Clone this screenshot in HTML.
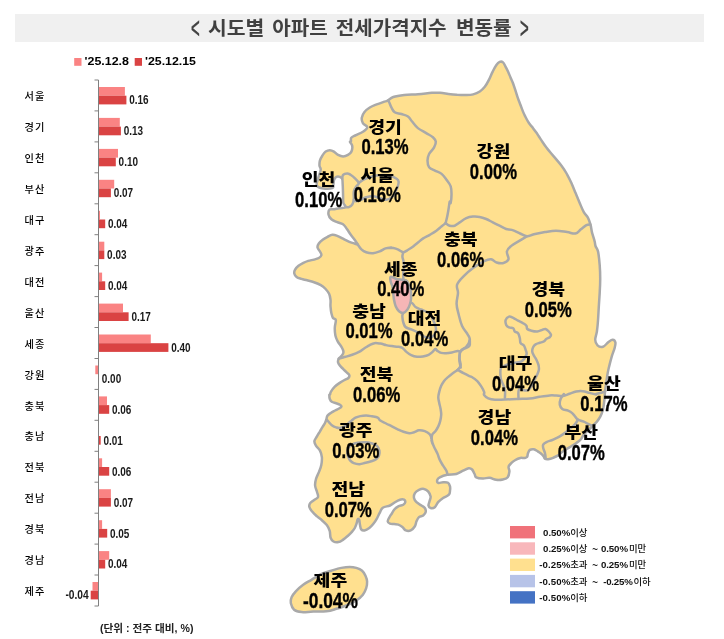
<!DOCTYPE html>
<html lang="ko">
<head>
<meta charset="utf-8">
<title>시도별 아파트 전세가격지수 변동률</title>
<style>
html,body{margin:0;padding:0;background:#fff;}
body{width:724px;height:639px;overflow:hidden;}
svg{display:block;}
text{font-family:"Liberation Sans","Noto Sans CJK KR",sans-serif;fill:#111;}
.title{font-size:19px;font-weight:700;fill:#404040;}
.chev{font-size:30px;font-weight:400;fill:#404040;stroke:#404040;stroke-width:0.5px;}
.leg{font-size:10.8px;font-weight:700;fill:#000;}
.cat{font-size:10.2px;letter-spacing:1.1px;fill:#000;font-weight:500;}
.val{font-size:13px;font-weight:700;fill:#1a1a1a;}
.unit{font-size:10.5px;font-weight:700;fill:#222;}
.ml{font-size:15.9px;font-weight:900;fill:#000;}
.mv{font-size:21.2px;font-weight:700;fill:#000;stroke:#000;stroke-width:0.4px;}
.lg{fill:#111;}
.lgn{font-size:9.7px;font-weight:700;}
.lgk{font-size:9.4px;font-weight:500;}
</style>
</head>
<body>
<svg width="724" height="639" viewBox="0 0 724 639">
<rect x="15" y="14" width="689" height="28" fill="#F0F0F0"/>
<text y="35" class="title"><tspan x="207.9" textLength="56.4" lengthAdjust="spacingAndGlyphs">시도별</tspan> <tspan x="272.3" textLength="55.6" lengthAdjust="spacingAndGlyphs">아파트</tspan> <tspan x="335.8" textLength="110.8" lengthAdjust="spacingAndGlyphs">전세가격지수</tspan> <tspan x="455.9" textLength="55.8" lengthAdjust="spacingAndGlyphs">변동률</tspan></text>
<text class="chev" transform="translate(191.0,38.3) scale(0.5,1)">&lt;</text>
<text class="chev" transform="translate(519.9,38.3) scale(0.5,1)">&gt;</text>
<rect x="74.2" y="58" width="7.3" height="7.8" fill="#FA8383"/>
<text x="84.5" y="65.3" class="leg" textLength="44.5" lengthAdjust="spacingAndGlyphs">'25.12.8</text>
<rect x="134.7" y="58" width="7.3" height="7.8" fill="#DA4343"/>
<text x="145" y="65.3" class="leg" textLength="51" lengthAdjust="spacingAndGlyphs">'25.12.15</text>
<line x1="98.5" y1="80.0" x2="98.5" y2="606.0" stroke="#808080" stroke-width="1"/>
<line x1="94.5" y1="80.0" x2="98.5" y2="80.0" stroke="#808080" stroke-width="1"/>
<line x1="94.5" y1="110.9" x2="98.5" y2="110.9" stroke="#808080" stroke-width="1"/>
<line x1="94.5" y1="141.9" x2="98.5" y2="141.9" stroke="#808080" stroke-width="1"/>
<line x1="94.5" y1="172.8" x2="98.5" y2="172.8" stroke="#808080" stroke-width="1"/>
<line x1="94.5" y1="203.8" x2="98.5" y2="203.8" stroke="#808080" stroke-width="1"/>
<line x1="94.5" y1="234.7" x2="98.5" y2="234.7" stroke="#808080" stroke-width="1"/>
<line x1="94.5" y1="265.6" x2="98.5" y2="265.6" stroke="#808080" stroke-width="1"/>
<line x1="94.5" y1="296.6" x2="98.5" y2="296.6" stroke="#808080" stroke-width="1"/>
<line x1="94.5" y1="327.5" x2="98.5" y2="327.5" stroke="#808080" stroke-width="1"/>
<line x1="94.5" y1="358.5" x2="98.5" y2="358.5" stroke="#808080" stroke-width="1"/>
<line x1="94.5" y1="389.4" x2="98.5" y2="389.4" stroke="#808080" stroke-width="1"/>
<line x1="94.5" y1="420.3" x2="98.5" y2="420.3" stroke="#808080" stroke-width="1"/>
<line x1="94.5" y1="451.3" x2="98.5" y2="451.3" stroke="#808080" stroke-width="1"/>
<line x1="94.5" y1="482.2" x2="98.5" y2="482.2" stroke="#808080" stroke-width="1"/>
<line x1="94.5" y1="513.2" x2="98.5" y2="513.2" stroke="#808080" stroke-width="1"/>
<line x1="94.5" y1="544.1" x2="98.5" y2="544.1" stroke="#808080" stroke-width="1"/>
<line x1="94.5" y1="575.0" x2="98.5" y2="575.0" stroke="#808080" stroke-width="1"/>
<line x1="94.5" y1="606.0" x2="98.5" y2="606.0" stroke="#808080" stroke-width="1"/>
<rect x="99.0" y="87.0" width="25.9" height="8.7" fill="#FA8383"/>
<rect x="99.0" y="95.7" width="27.4" height="8.7" fill="#DA4343"/>
<text x="24.6" y="100.1" class="cat">서울</text>
<text x="129.2" y="104.3" class="val" textLength="19.4" lengthAdjust="spacingAndGlyphs">0.16</text>
<rect x="99.0" y="117.9" width="20.8" height="8.7" fill="#FA8383"/>
<rect x="99.0" y="126.6" width="21.9" height="8.7" fill="#DA4343"/>
<text x="24.6" y="131.0" class="cat">경기</text>
<text x="123.7" y="135.2" class="val" textLength="19.4" lengthAdjust="spacingAndGlyphs">0.13</text>
<rect x="99.0" y="148.9" width="19.0" height="8.7" fill="#FA8383"/>
<rect x="99.0" y="157.6" width="16.8" height="8.7" fill="#DA4343"/>
<text x="24.6" y="162.0" class="cat">인천</text>
<text x="118.6" y="166.2" class="val" textLength="19.4" lengthAdjust="spacingAndGlyphs">0.10</text>
<rect x="99.0" y="179.8" width="15.2" height="8.7" fill="#FA8383"/>
<rect x="99.0" y="188.5" width="11.9" height="8.7" fill="#DA4343"/>
<text x="24.6" y="192.9" class="cat">부산</text>
<text x="113.7" y="197.1" class="val" textLength="19.4" lengthAdjust="spacingAndGlyphs">0.07</text>
<rect x="99.0" y="210.8" width="1.0" height="8.7" fill="#FA8383"/>
<rect x="99.0" y="219.5" width="6.2" height="8.7" fill="#DA4343"/>
<text x="24.6" y="223.9" class="cat">대구</text>
<text x="108.0" y="228.1" class="val" textLength="19.4" lengthAdjust="spacingAndGlyphs">0.04</text>
<rect x="99.0" y="241.7" width="5.3" height="8.7" fill="#FA8383"/>
<rect x="99.0" y="250.4" width="5.3" height="8.7" fill="#DA4343"/>
<text x="24.6" y="254.8" class="cat">광주</text>
<text x="107.1" y="259.0" class="val" textLength="19.4" lengthAdjust="spacingAndGlyphs">0.03</text>
<rect x="99.0" y="272.6" width="3.1" height="8.7" fill="#FA8383"/>
<rect x="99.0" y="281.3" width="6.2" height="8.7" fill="#DA4343"/>
<text x="24.6" y="285.7" class="cat">대전</text>
<text x="108.0" y="289.9" class="val" textLength="19.4" lengthAdjust="spacingAndGlyphs">0.04</text>
<rect x="99.0" y="303.6" width="24.0" height="8.7" fill="#FA8383"/>
<rect x="99.0" y="312.3" width="29.6" height="8.7" fill="#DA4343"/>
<text x="24.6" y="316.7" class="cat">울산</text>
<text x="131.4" y="320.9" class="val" textLength="19.4" lengthAdjust="spacingAndGlyphs">0.17</text>
<rect x="99.0" y="334.5" width="51.8" height="8.7" fill="#FA8383"/>
<rect x="99.0" y="343.2" width="69.4" height="8.7" fill="#DA4343"/>
<text x="24.6" y="347.6" class="cat">세종</text>
<text x="171.2" y="351.8" class="val" textLength="19.4" lengthAdjust="spacingAndGlyphs">0.40</text>
<rect x="95.3" y="365.5" width="2.7" height="8.7" fill="#FA8383"/>

<text x="24.6" y="378.6" class="cat">강원</text>
<text x="101.8" y="382.8" class="val" textLength="19.4" lengthAdjust="spacingAndGlyphs">0.00</text>
<rect x="99.0" y="396.4" width="8.0" height="8.7" fill="#FA8383"/>
<rect x="99.0" y="405.1" width="10.2" height="8.7" fill="#DA4343"/>
<text x="24.6" y="409.5" class="cat">충북</text>
<text x="112.0" y="413.7" class="val" textLength="19.4" lengthAdjust="spacingAndGlyphs">0.06</text>

<rect x="99.0" y="436.0" width="1.7" height="8.7" fill="#DA4343"/>
<text x="24.6" y="440.4" class="cat">충남</text>
<text x="103.5" y="444.6" class="val" textLength="19.4" lengthAdjust="spacingAndGlyphs">0.01</text>
<rect x="99.0" y="458.3" width="3.1" height="8.7" fill="#FA8383"/>
<rect x="99.0" y="467.0" width="10.2" height="8.7" fill="#DA4343"/>
<text x="24.6" y="471.4" class="cat">전북</text>
<text x="112.0" y="475.6" class="val" textLength="19.4" lengthAdjust="spacingAndGlyphs">0.06</text>
<rect x="99.0" y="489.2" width="11.9" height="8.7" fill="#FA8383"/>
<rect x="99.0" y="497.9" width="11.9" height="8.7" fill="#DA4343"/>
<text x="24.6" y="502.3" class="cat">전남</text>
<text x="113.7" y="506.5" class="val" textLength="19.4" lengthAdjust="spacingAndGlyphs">0.07</text>
<rect x="99.0" y="520.2" width="3.1" height="8.7" fill="#FA8383"/>
<rect x="99.0" y="528.9" width="8.2" height="8.7" fill="#DA4343"/>
<text x="24.6" y="533.3" class="cat">경북</text>
<text x="110.0" y="537.5" class="val" textLength="19.4" lengthAdjust="spacingAndGlyphs">0.05</text>
<rect x="99.0" y="551.1" width="10.2" height="8.7" fill="#FA8383"/>
<rect x="99.0" y="559.8" width="6.2" height="8.7" fill="#DA4343"/>
<text x="24.6" y="564.2" class="cat">경남</text>
<text x="108.0" y="568.4" class="val" textLength="19.4" lengthAdjust="spacingAndGlyphs">0.04</text>
<rect x="92.5" y="582.0" width="5.5" height="8.7" fill="#FA8383"/>
<rect x="90.7" y="590.7" width="7.3" height="8.7" fill="#DA4343"/>
<text x="24.6" y="595.1" class="cat">제주</text>
<text x="65.4" y="599.3" class="val" textLength="23.3" lengthAdjust="spacingAndGlyphs">-0.04</text>
<text x="100" y="632" class="unit" textLength="93.5" lengthAdjust="spacingAndGlyphs">(단위 : 전주 대비, %)</text>
<path d="M387.7,100.6C389.5,99.7 390.3,98.0 393.3,97.0C396.3,96.0 399.8,95.5 404.3,95.0C408.8,94.5 413.0,94.6 418.1,94.2C423.2,93.8 427.9,93.1 431.9,92.8C435.9,92.5 437.0,92.6 440.0,92.8C443.0,93.0 445.3,93.5 448.3,93.9C451.3,94.3 453.6,94.6 456.6,94.8C459.6,95.0 461.9,95.2 464.9,95.1C467.9,95.0 470.5,95.1 473.2,94.4C475.9,93.7 477.7,92.9 479.8,91.5C481.9,90.1 483.1,88.9 484.8,86.8C486.5,84.7 487.5,82.7 488.9,79.9C490.3,77.1 491.3,74.3 492.7,71.6C494.1,68.8 495.1,66.7 496.4,64.9C497.7,63.1 498.5,62.4 499.7,61.9C500.9,61.4 501.9,61.5 503.0,62.4C504.1,63.3 504.6,64.9 505.5,66.6C506.4,68.3 507.1,69.6 508.0,71.6C508.9,73.6 509.6,75.3 510.5,77.4C511.4,79.5 512.1,80.8 513.0,83.2C513.9,85.6 514.6,87.9 515.5,90.6C516.4,93.3 517.0,95.5 517.9,98.1C518.8,100.7 519.5,102.3 520.4,104.7C521.3,107.1 522.0,109.2 522.9,111.4C523.8,113.6 524.5,114.9 525.4,116.7C526.3,118.5 527.0,119.8 527.9,121.3C528.8,122.8 529.5,123.8 530.4,125.0C531.3,126.2 531.9,126.6 532.9,127.9C533.9,129.2 534.8,130.6 535.9,132.1C537.0,133.6 537.5,134.4 538.7,136.2C539.9,138.0 541.1,139.9 542.5,142.0C543.9,144.1 545.2,146.0 546.6,147.8C548.0,149.6 547.3,148.7 550.0,152.0C552.7,155.3 558.3,161.5 561.5,165.7C564.7,169.9 565.5,171.6 567.3,174.8C569.1,178.0 569.9,179.7 571.4,183.1C572.9,186.5 574.1,189.5 575.6,193.1C577.1,196.7 578.2,199.5 579.7,203.0C581.2,206.5 582.3,209.4 583.8,212.1C585.3,214.8 586.8,215.6 588.0,217.9C589.2,220.2 589.7,221.8 590.5,224.6C591.3,227.3 591.3,229.9 592.1,232.9C592.9,235.9 594.0,238.8 594.6,241.2C595.2,243.6 594.9,244.1 595.5,246.0C596.1,247.9 597.2,247.9 598.0,251.4C598.8,254.9 599.3,260.1 599.7,265.2C600.1,270.3 600.2,274.0 600.2,279.1C600.2,284.2 600.0,287.8 599.7,292.9C599.4,298.0 599.1,301.6 598.8,306.7C598.5,311.8 598.3,316.0 598.0,320.5C597.7,325.0 597.4,328.0 596.9,331.5C596.4,335.0 595.1,337.3 595.2,339.8C595.3,342.3 596.1,344.1 597.5,345.4C598.9,346.7 601.0,347.3 603.0,346.7C605.0,346.1 606.7,343.3 608.5,342.0C610.3,340.7 611.4,339.7 612.7,339.8C614.0,339.9 615.1,341.1 615.4,342.6C615.7,344.1 615.3,345.6 614.6,348.1C613.9,350.6 612.9,352.7 611.8,356.4C610.7,360.1 609.6,364.6 608.7,368.3C607.8,372.0 607.6,373.6 607.1,376.6C606.6,379.6 606.3,381.9 605.9,384.9C605.5,387.9 605.2,390.2 604.9,393.2C604.6,396.2 604.6,398.5 604.2,401.5C603.8,404.5 603.6,407.1 602.9,409.8C602.2,412.5 601.5,414.3 600.4,416.4C599.3,418.5 598.5,419.7 597.1,421.4C595.7,423.1 594.7,423.8 593.0,425.5C591.3,427.2 589.7,428.8 588.0,430.5C586.3,432.2 585.2,432.9 583.8,434.6C582.4,436.3 581.9,438.1 580.5,439.6C579.1,441.1 578.4,441.5 576.4,442.9C574.4,444.3 572.2,445.6 569.8,447.1C567.4,448.6 565.2,449.7 563.1,451.2C561.0,452.7 559.9,454.2 558.1,455.4C556.3,456.6 555.0,457.1 553.2,457.8C551.4,458.5 549.7,459.0 548.2,459.2C546.7,459.4 545.8,459.3 544.9,458.7C544.0,458.1 544.3,457.1 543.5,456.1C542.7,455.1 541.7,454.1 540.6,453.2C539.5,452.3 538.9,452.0 537.7,451.3C536.5,450.6 535.2,449.6 533.8,449.3C532.4,449.0 531.0,449.2 529.9,449.9C528.8,450.6 528.5,451.9 528.0,453.2C527.5,454.5 527.7,456.2 527.0,457.1C526.3,458.0 525.3,457.8 524.1,458.0C522.9,458.2 521.9,457.6 520.3,458.0C518.7,458.4 517.0,459.1 515.4,460.0C513.8,460.9 512.7,461.7 511.5,462.9C510.3,464.1 509.0,465.1 508.6,466.7C508.2,468.3 509.6,469.6 509.4,471.5C509.2,473.4 508.9,475.8 507.7,477.3C506.5,478.8 504.9,479.0 502.8,479.5C500.7,480.0 498.5,480.1 496.1,479.8C493.7,479.5 491.9,478.0 489.5,477.8C487.1,477.6 485.3,478.6 482.9,478.5C480.5,478.4 477.7,478.1 476.2,477.3C474.7,476.5 475.4,475.4 474.6,474.0C473.8,472.6 473.2,470.6 472.1,469.5C471.0,468.4 470.5,468.0 468.8,468.2C467.1,468.4 465.3,469.6 463.0,470.7C460.7,471.8 459.2,473.2 456.3,474.0C453.4,474.8 450.2,474.2 447.2,474.8C444.2,475.4 441.6,476.4 439.8,477.3C438.0,478.2 437.6,478.8 437.3,479.8C437.0,480.8 437.0,482.3 438.1,482.8C439.2,483.3 441.3,482.3 443.1,482.3C444.9,482.3 446.7,482.0 448.0,482.8C449.3,483.6 449.6,485.0 450.0,486.4C450.4,487.8 450.2,489.1 450.0,490.6C449.8,492.1 450.2,493.3 448.9,494.7C447.6,496.1 445.1,496.6 443.1,498.0C441.1,499.4 439.6,500.5 438.1,502.2C436.6,503.9 436.2,506.1 434.8,507.2C433.4,508.3 431.8,508.3 430.6,508.0C429.4,507.7 428.7,506.7 428.5,505.5C428.3,504.3 429.1,503.1 429.5,501.4C429.9,499.7 430.9,498.2 430.6,496.4C430.3,494.6 429.3,492.8 428.1,491.4C426.9,490.0 425.7,489.2 424.0,488.9C422.3,488.6 420.7,489.0 419.0,489.8C417.3,490.6 415.8,491.6 414.9,493.1C414.0,494.6 413.7,496.3 414.0,498.0C414.3,499.7 415.1,500.8 416.5,502.2C417.9,503.6 420.0,504.4 421.5,505.5C423.0,506.6 424.0,506.8 424.8,508.0C425.6,509.2 426.0,510.7 425.7,512.1C425.4,513.5 424.4,514.6 423.2,515.5C422.0,516.4 420.2,516.0 419.0,517.1C417.8,518.2 417.3,519.6 416.5,521.3C415.7,523.0 416.0,524.5 414.9,526.2C413.8,527.9 412.4,529.6 410.7,530.4C409.0,531.2 407.3,531.0 405.8,530.4C404.3,529.8 403.8,528.2 402.4,527.1C401.0,526.0 399.8,525.1 398.3,524.6C396.8,524.1 395.6,524.3 394.1,524.1C392.6,523.9 391.2,524.2 390.0,523.7C388.8,523.2 387.7,522.6 387.7,521.2C387.7,519.8 389.3,517.7 390.0,516.3C390.7,514.9 390.9,515.0 391.7,513.8C392.5,512.6 392.9,511.1 394.1,509.7C395.3,508.3 396.6,507.2 398.3,506.3C400.0,505.4 402.0,505.5 403.3,504.7C404.6,503.9 405.2,503.1 405.3,502.2C405.4,501.3 405.1,500.2 404.1,499.7C403.1,499.2 401.7,499.2 400.0,499.7C398.3,500.2 396.8,501.1 395.0,502.2C393.2,503.3 392.2,504.5 390.0,505.5C387.8,506.5 384.7,506.4 382.8,507.7C380.9,509.0 381.0,510.6 379.9,512.5C378.8,514.4 378.2,516.2 377.0,518.3C375.8,520.4 374.6,522.3 373.2,524.1C371.8,525.9 370.9,526.8 369.3,528.0C367.7,529.2 366.0,530.2 364.5,530.5C363.0,530.8 362.0,530.4 361.2,529.4C360.4,528.4 360.4,526.9 360.0,525.1C359.6,523.3 359.6,520.8 359.2,519.7C358.8,518.6 358.2,518.7 357.7,519.3C357.2,519.9 357.2,521.6 356.7,523.2C356.2,524.8 355.7,526.4 354.8,528.0C353.9,529.6 353.1,530.5 351.9,531.9C350.7,533.3 349.6,534.3 348.0,535.7C346.4,537.1 345.0,538.4 343.2,539.6C341.4,540.8 340.2,541.8 338.4,542.1C336.6,542.4 334.9,542.3 333.5,541.5C332.1,540.7 331.3,539.6 330.6,537.7C329.9,535.8 330.4,533.2 329.7,530.9C329.0,528.6 328.2,527.0 326.8,525.1C325.4,523.2 323.7,521.9 321.9,520.3C320.1,518.7 318.9,518.0 317.1,516.4C315.3,514.8 313.6,513.4 312.2,511.6C310.8,509.8 309.6,508.3 309.3,506.7C309.0,505.1 309.4,504.1 310.3,502.9C311.2,501.7 312.8,501.1 314.2,500.0C315.6,498.9 317.5,498.5 318.0,497.1C318.5,495.7 317.6,494.3 317.1,492.2C316.6,490.1 315.3,488.0 315.1,485.5C314.9,483.0 315.4,481.2 316.1,478.7C316.8,476.2 318.0,474.4 319.0,471.9C320.0,469.4 320.8,467.8 321.3,465.1C321.8,462.4 322.1,460.1 321.9,457.4C321.7,454.7 321.1,452.7 320.0,450.6C318.9,448.5 317.1,447.5 316.1,445.8C315.1,444.1 314.3,443.1 314.4,441.4C314.5,439.7 315.8,438.4 316.8,436.6C317.8,434.8 318.6,433.6 319.7,431.8C320.8,430.0 321.6,428.5 322.6,426.9C323.6,425.3 324.3,424.4 325.0,423.0C325.7,421.6 326.0,420.5 326.4,419.2C326.8,417.9 326.6,417.0 327.4,415.8C328.2,414.6 329.4,413.9 330.8,412.9C332.2,411.9 333.6,411.3 335.1,410.5C336.6,409.7 337.8,409.2 339.0,408.5C340.2,407.8 341.2,407.3 341.4,406.6C341.6,405.9 341.0,405.3 340.0,404.7C339.0,404.1 337.6,403.7 336.1,403.2C334.6,402.7 333.0,402.6 331.8,401.8C330.6,401.0 330.3,400.1 329.8,398.9C329.3,397.7 329.3,395.8 329.3,395.0C329.3,394.2 329.7,395.1 330.0,394.5C330.3,393.9 330.1,393.0 331.0,391.6C331.9,390.2 333.2,388.3 334.8,386.7C336.4,385.1 337.9,384.1 339.7,382.9C341.5,381.7 342.9,380.9 344.5,380.0C346.1,379.1 347.5,378.9 348.4,378.0C349.3,377.1 349.7,376.2 349.3,375.1C348.9,374.0 347.5,373.3 346.4,372.2C345.3,371.1 344.6,370.4 343.5,369.3C342.4,368.2 341.6,367.6 340.6,366.4C339.6,365.2 338.4,364.0 338.1,362.6C337.8,361.2 338.1,359.9 338.7,358.7C339.3,357.5 340.7,357.0 341.6,355.8C342.5,354.6 343.5,353.5 343.5,351.9C343.5,350.3 342.7,349.0 341.6,347.1C340.5,345.2 338.8,343.4 337.7,341.3C336.6,339.2 335.9,338.0 335.4,335.5C334.9,333.0 334.7,330.5 334.8,327.7C334.9,324.9 336.1,321.8 335.8,320.0C335.5,318.2 333.8,319.2 333.0,318.0C332.2,316.8 331.9,315.3 331.4,313.2C330.9,311.1 330.7,308.9 330.5,306.4C330.3,303.9 330.8,301.9 330.5,299.6C330.2,297.3 330.0,295.7 329.1,293.8C328.2,291.9 327.1,290.6 325.6,289.0C324.1,287.4 322.9,286.3 320.8,285.1C318.7,283.9 316.5,283.1 314.0,282.2C311.5,281.3 309.5,280.9 307.2,280.3C304.9,279.7 303.3,279.5 301.4,278.9C299.5,278.3 297.9,278.0 296.6,277.0C295.3,276.0 294.6,274.9 294.3,273.5C294.0,272.1 294.3,271.0 295.1,269.6C295.9,268.2 297.0,267.0 298.5,265.8C300.0,264.6 301.6,263.8 303.4,262.9C305.2,262.0 306.3,261.5 308.2,260.9C310.1,260.3 312.1,260.1 314.0,259.6C315.9,259.1 317.4,258.8 318.8,258.0C320.2,257.2 321.2,256.3 321.4,255.1C321.6,253.9 320.5,252.7 319.8,251.3C319.1,249.9 317.7,248.8 317.5,247.4C317.3,246.0 317.8,244.9 318.8,243.5C319.8,242.1 321.1,240.9 322.7,239.7C324.3,238.5 325.8,237.7 327.6,236.8C329.4,235.9 330.6,235.0 332.4,234.8C334.2,234.6 335.3,235.1 337.2,235.8C339.1,236.5 340.9,237.6 343.0,238.7C345.1,239.8 346.7,240.7 348.8,241.6C350.9,242.5 353.0,243.0 354.6,243.5C356.2,244.0 357.5,244.8 357.5,244.1C357.5,243.4 355.8,241.4 354.6,239.7C353.4,238.0 352.2,236.8 350.8,234.8C349.4,232.8 348.3,230.9 346.9,229.0C345.5,227.1 344.8,225.4 343.0,224.2C341.2,223.0 339.3,223.1 337.2,222.2C335.1,221.3 333.0,220.7 331.4,219.3C329.8,217.9 328.8,216.3 328.5,214.5C328.2,212.7 328.6,210.7 329.5,209.7C330.4,208.7 331.5,209.6 333.4,209.3C335.3,209.0 337.6,208.7 339.8,208.3C342.0,207.9 344.9,208.1 345.6,207.1C346.3,206.1 343.9,205.0 343.4,203.0C342.9,201.0 343.2,199.7 343.1,196.3C343.0,192.9 342.9,187.9 342.7,184.7C342.5,181.5 342.7,180.3 342.2,178.9C341.7,177.5 340.9,177.3 339.8,176.9C338.7,176.5 337.4,176.4 336.4,176.9C335.4,177.4 334.7,178.4 334.1,179.8C333.6,181.2 333.7,183.2 333.4,184.7C333.1,186.2 334.2,187.3 332.3,188.0C330.4,188.7 326.0,188.8 323.2,188.4C320.4,188.0 317.8,187.5 316.9,185.6C316.0,183.7 317.5,181.0 318.2,178.1C318.9,175.2 320.5,172.1 320.7,169.8C320.9,167.5 319.6,167.4 319.5,165.7C319.4,164.0 319.4,162.5 319.9,160.7C320.4,158.9 321.2,157.4 322.3,155.7C323.4,154.0 324.3,152.6 325.7,151.6C327.1,150.6 328.3,150.2 329.8,150.2C331.3,150.2 332.4,150.7 333.9,151.6C335.4,152.5 336.4,154.0 338.1,154.9C339.8,155.8 341.3,156.5 343.1,156.5C344.9,156.5 346.5,155.8 348.0,154.9C349.5,154.0 350.6,153.3 351.4,151.6C352.2,149.9 352.5,147.6 352.2,145.8C351.9,144.0 350.2,142.7 350.0,141.9C349.8,141.1 350.8,142.0 351.0,141.2C351.2,140.4 350.4,138.9 351.3,137.8C352.2,136.7 353.9,136.2 356.0,135.1C358.1,134.0 360.8,133.2 362.9,131.8C365.0,130.4 367.3,128.9 367.3,127.3C367.3,125.7 363.9,125.0 362.9,123.2C361.9,121.4 361.5,119.7 361.8,117.7C362.1,115.7 362.8,114.1 364.3,112.2C365.8,110.3 367.5,108.9 369.8,107.5C372.1,106.1 374.2,105.4 376.7,104.4C379.2,103.4 381.6,102.6 383.6,101.9C385.6,101.2 385.9,101.5 387.7,100.6Z" fill="#FFE08F" stroke="#A9A9A9" stroke-width="2.5" stroke-linejoin="round"/>
<path d="M295.8,591.4C297.9,589.1 300.3,586.9 303.2,584.8C306.1,582.7 308.1,581.8 311.5,579.8C314.9,577.8 317.9,575.7 321.5,574.0C325.1,572.3 327.8,571.8 331.4,570.7C335.0,569.6 338.0,568.6 341.4,567.9C344.8,567.2 347.0,566.9 349.7,566.9C352.4,566.9 354.0,567.2 356.3,567.9C358.6,568.6 360.4,569.3 362.1,570.7C363.8,572.1 364.5,573.7 365.4,575.7C366.3,577.7 367.0,579.2 367.1,581.5C367.2,583.8 367.0,585.7 366.2,588.1C365.4,590.5 364.7,592.4 362.9,594.7C361.1,597.0 359.3,598.5 356.3,600.5C353.3,602.5 349.9,604.0 346.3,605.5C342.7,607.0 340.0,607.7 336.4,608.8C332.8,609.9 330.7,610.8 326.4,611.3C322.1,611.8 317.7,611.5 313.2,611.6C308.7,611.7 305.1,612.4 301.6,612.1C298.1,611.8 296.1,611.4 294.1,609.7C292.1,608.0 291.3,605.3 290.8,603.0C290.3,600.7 290.7,599.3 291.6,597.2C292.5,595.1 293.7,593.7 295.8,591.4Z" fill="#FFE08F" stroke="#A9A9A9" stroke-width="2.5" stroke-linejoin="round"/>
<path d="M387.7,100.6C387.9,100.8 388.2,100.4 388.9,101.6C389.6,102.8 390.3,105.4 391.4,107.4C392.5,109.4 392.9,111.1 394.7,112.3C396.5,113.5 399.0,113.2 401.4,114.0C403.8,114.8 406.0,115.1 408.0,116.5C410.0,117.9 410.3,119.4 412.1,121.5C413.9,123.6 415.3,126.0 417.9,128.1C420.5,130.2 423.4,131.4 426.2,133.1C428.9,134.8 431.1,135.6 432.9,137.2C434.7,138.8 435.6,139.7 435.8,141.6C436.0,143.5 435.3,145.1 434.1,147.4C432.9,149.7 430.3,151.6 429.1,154.0C427.9,156.4 427.5,158.2 427.5,160.6C427.5,163.0 427.7,165.5 429.1,167.3C430.5,169.1 432.6,169.4 434.9,170.6C437.2,171.8 439.5,172.2 441.6,173.9C443.7,175.6 444.8,177.4 446.5,179.7C448.2,182.0 449.8,183.6 450.7,186.3C451.6,189.0 451.5,191.6 451.5,194.6C451.5,197.6 451.0,201.6 450.7,202.9C450.4,204.2 450.1,200.3 449.7,201.6C449.3,202.9 448.9,207.2 448.4,209.9C447.9,212.7 447.7,214.2 447.2,216.6C446.7,219.0 445.9,222.0 445.6,223.2" fill="none" stroke="#A9A9A9" stroke-width="2.5" stroke-linejoin="round" stroke-linecap="round"/>
<path d="M445.6,223.2C446.4,223.7 448.0,225.2 449.7,225.7C451.4,226.2 452.9,226.3 454.7,225.7C456.5,225.1 457.6,223.8 459.7,222.4C461.8,221.0 463.9,219.3 466.3,218.2C468.7,217.1 470.5,216.8 472.9,216.6C475.3,216.4 477.2,216.5 479.6,216.9C482.0,217.3 483.8,218.0 486.2,219.0C488.6,220.0 490.4,221.2 492.8,222.4C495.2,223.6 497.1,224.5 499.5,225.7C501.9,226.9 503.8,228.2 506.1,229.0C508.4,229.8 509.2,229.1 511.8,229.9C514.4,230.7 517.3,232.3 520.1,233.5C522.9,234.7 524.5,236.1 527.0,236.2C529.5,236.3 530.6,235.1 533.9,234.3C537.2,233.5 540.9,232.8 545.0,232.1C549.1,231.4 551.9,230.7 556.0,230.7C560.1,230.7 563.5,231.6 567.1,232.1C570.7,232.6 572.9,234.0 575.4,233.5C577.9,233.0 578.9,230.8 580.9,229.3C582.9,227.8 584.7,226.1 586.4,225.2C588.1,224.3 589.6,224.6 590.3,224.5" fill="none" stroke="#A9A9A9" stroke-width="2.5" stroke-linejoin="round" stroke-linecap="round"/>
<path d="M527.0,236.2C525.7,237.0 523.0,238.6 520.1,240.4C517.2,242.2 513.7,243.9 511.3,245.9C508.9,247.9 507.4,249.0 506.9,251.4C506.4,253.8 509.1,257.1 508.5,259.2C507.9,261.3 505.7,262.4 503.5,263.0C501.3,263.6 498.9,263.2 496.6,262.5C494.3,261.8 493.4,259.5 491.1,259.2C488.8,258.9 487.5,259.5 484.2,261.1C480.9,262.7 476.9,265.2 473.1,268.0C469.3,270.8 466.4,273.3 463.5,276.3C460.6,279.3 458.1,281.6 457.1,284.6C456.1,287.6 458.1,289.4 458.0,292.9C457.9,296.4 456.5,299.8 456.6,303.9C456.7,308.0 457.8,310.9 458.8,315.0C459.8,319.1 460.5,322.5 462.1,326.0C463.7,329.5 466.2,331.8 467.6,334.3C469.0,336.8 470.1,337.5 469.8,339.8C469.5,342.1 467.9,344.7 466.2,346.7C464.5,348.7 462.0,348.6 460.7,350.9C459.4,353.2 459.3,356.2 459.3,359.2C459.3,362.2 460.4,366.0 460.7,367.5" fill="none" stroke="#A9A9A9" stroke-width="2.5" stroke-linejoin="round" stroke-linecap="round"/>
<path d="M357.5,244.1C358.2,245.1 359.8,247.8 361.4,249.3C363.0,250.8 364.1,251.5 366.2,252.2C368.3,252.9 370.5,253.4 373.0,253.2C375.5,253.0 377.5,252.2 379.8,251.3C382.1,250.4 383.5,249.1 385.6,248.4C387.7,247.7 390.6,247.5 391.4,247.4C392.2,247.3 389.7,248.0 390.0,248.1C390.3,248.2 391.8,247.8 393.3,248.1C394.8,248.4 396.5,248.9 398.3,249.7C400.1,250.5 401.5,252.2 403.3,252.2C405.1,252.2 406.4,250.8 408.2,249.7C410.0,248.6 411.4,247.8 413.2,246.4C415.0,245.0 416.4,243.8 418.2,242.3C420.0,240.8 421.1,239.8 423.2,238.4C425.3,237.0 427.4,236.2 429.8,234.8C432.2,233.4 434.3,232.2 436.4,230.7C438.5,229.2 439.7,227.9 441.4,226.5C443.1,225.1 444.8,223.8 445.6,223.2" fill="none" stroke="#A9A9A9" stroke-width="2.5" stroke-linejoin="round" stroke-linecap="round"/>
<path d="M460.0,351.9C459.9,353.1 459.5,356.2 459.6,358.7C459.7,361.2 460.9,363.4 460.6,365.5C460.3,367.6 458.2,369.1 457.7,369.9" fill="none" stroke="#A9A9A9" stroke-width="2.5" stroke-linejoin="round" stroke-linecap="round"/>
<path d="M460.0,351.9C460.6,351.4 461.8,350.1 463.5,349.0C465.2,347.9 468.1,347.8 469.3,346.1C470.5,344.4 469.7,341.0 469.8,339.8" fill="none" stroke="#A9A9A9" stroke-width="2.5" stroke-linejoin="round" stroke-linecap="round"/>
<path d="M457.7,369.9C456.8,370.5 454.6,371.9 452.8,373.2C451.0,374.5 449.6,375.7 448.0,377.1C446.4,378.5 445.3,379.3 444.1,380.9C442.9,382.5 442.1,383.8 441.2,385.8C440.3,387.8 439.8,389.5 439.3,391.6C438.8,393.7 438.3,395.3 438.3,397.4C438.3,399.5 438.9,401.1 439.3,403.2C439.7,405.3 440.3,406.9 440.6,409.0C440.9,411.1 441.3,412.7 441.2,414.8C441.1,416.9 440.8,418.5 440.3,420.6C439.8,422.7 439.2,424.5 438.3,426.4C437.4,428.3 436.5,429.8 435.4,431.2C434.3,432.6 433.2,432.9 432.5,434.1C431.8,435.3 431.7,437.3 431.5,438.0" fill="none" stroke="#A9A9A9" stroke-width="2.5" stroke-linejoin="round" stroke-linecap="round"/>
<path d="M457.7,369.9C458.8,370.5 461.4,372.1 463.5,373.2C465.6,374.3 467.8,375.4 469.3,376.1C470.8,376.8 470.3,376.1 471.8,377.0C473.3,377.9 475.5,379.3 477.3,381.1C479.1,382.9 480.1,384.6 481.4,386.6C482.7,388.6 483.7,390.7 484.2,392.2C484.7,393.7 483.3,393.8 484.1,394.9C484.9,396.0 486.3,397.4 488.3,398.3C490.3,399.2 491.9,399.5 494.9,399.7C497.9,399.9 500.6,399.6 504.9,399.5C509.2,399.4 513.5,399.2 518.1,399.0C522.7,398.8 525.8,398.9 529.8,398.5C533.8,398.1 536.1,397.4 539.7,396.8C543.3,396.2 546.7,395.6 549.7,395.4C552.7,395.2 553.9,395.4 556.3,395.5C558.7,395.6 560.5,396.2 562.9,395.9C565.3,395.6 567.2,394.5 569.6,393.7C572.0,392.9 573.8,392.0 576.2,391.5C578.6,391.0 580.4,390.9 582.8,391.2C585.2,391.5 587.1,392.3 589.5,392.9C591.9,393.5 594.9,394.3 596.1,394.5C597.3,394.7 595.1,394.4 596.3,394.0C597.5,393.6 601.2,392.9 602.9,392.3C604.6,391.7 604.9,391.0 605.4,390.7" fill="none" stroke="#A9A9A9" stroke-width="2.5" stroke-linejoin="round" stroke-linecap="round"/>
<path d="M338.7,358.7C339.9,358.4 343.0,357.5 345.5,356.8C348.0,356.1 349.7,355.7 352.2,354.8C354.7,353.9 356.7,353.1 359.0,351.9C361.3,350.7 362.8,349.2 364.8,348.0C366.8,346.8 367.9,346.0 369.7,345.1C371.5,344.2 372.6,343.5 374.5,343.2C376.4,342.9 378.2,343.3 380.3,343.6C382.4,343.9 384.0,344.6 386.1,345.1C388.2,345.6 389.8,345.8 391.9,346.1C394.0,346.4 395.8,346.4 397.7,346.7C399.6,347.0 400.9,347.0 402.5,348.0C404.1,349.0 404.8,350.6 406.4,351.9C408.0,353.2 409.3,354.3 411.2,355.2C413.1,356.1 414.9,356.6 417.0,356.8C419.1,357.0 420.7,356.8 422.8,356.4C424.9,356.0 426.8,355.6 428.6,354.8C430.4,354.0 431.3,353.0 432.5,351.9C433.7,350.8 434.5,349.2 435.4,349.0C436.3,348.8 436.3,350.2 437.4,350.9C438.5,351.6 439.6,352.5 441.2,352.9C442.8,353.3 444.1,353.4 446.1,353.3C448.1,353.2 449.8,352.9 451.9,352.5C454.0,352.1 456.2,351.0 457.7,350.9C459.2,350.8 459.6,351.7 460.0,351.9" fill="none" stroke="#A9A9A9" stroke-width="2.5" stroke-linejoin="round" stroke-linecap="round"/>
<path d="M326.9,419.7C327.3,420.2 328.3,421.5 329.3,422.6C330.3,423.7 331.0,424.6 332.2,425.5C333.4,426.4 334.7,427.0 336.1,427.4C337.5,427.8 338.4,428.1 340.0,427.9C341.6,427.7 343.2,427.3 344.8,426.4C346.4,425.5 347.5,424.1 348.7,423.0C349.9,421.9 350.4,421.6 351.6,420.6C352.8,419.6 353.9,418.5 355.5,417.7C357.1,416.9 358.4,416.5 360.3,416.1C362.2,415.7 364.0,415.5 366.1,415.5C368.2,415.5 369.8,415.9 371.9,416.3C374.0,416.7 376.2,416.9 377.7,417.7C379.2,418.5 378.8,419.5 380.3,420.6C381.8,421.7 384.0,422.4 386.1,423.5C388.2,424.6 389.8,425.3 391.9,426.4C394.0,427.5 395.6,428.3 397.7,429.3C399.8,430.3 401.4,431.1 403.5,431.8C405.6,432.5 407.4,433.1 409.3,433.2C411.2,433.3 412.3,432.7 414.1,432.2C415.9,431.7 417.0,430.5 419.0,430.3C421.0,430.1 422.9,430.5 424.8,431.2C426.7,431.9 428.4,432.9 429.6,434.1C430.8,435.3 431.2,437.3 431.5,438.0" fill="none" stroke="#A9A9A9" stroke-width="2.5" stroke-linejoin="round" stroke-linecap="round"/>
<path d="M431.5,438.0C431.7,439.0 432.5,443.2 432.5,443.6C432.5,444.0 431.2,439.4 431.5,440.0C431.8,440.6 432.8,444.2 433.9,446.6C435.0,449.0 436.2,450.9 437.3,453.3C438.4,455.7 438.7,457.6 439.8,459.9C440.9,462.2 441.9,463.7 443.1,465.7C444.3,467.7 445.6,469.0 446.4,470.7C447.2,472.4 447.3,474.0 447.5,474.8" fill="none" stroke="#A9A9A9" stroke-width="2.5" stroke-linejoin="round" stroke-linecap="round"/>
<path d="M563.9,394.0C563.3,394.9 561.4,397.0 560.6,399.0C559.8,401.0 559.5,403.0 559.8,404.8C560.1,406.6 560.8,407.8 562.3,408.9C563.8,410.0 566.3,409.8 568.1,410.6C569.9,411.4 570.8,411.9 572.2,413.1C573.6,414.3 574.5,416.0 575.6,417.2C576.7,418.4 576.5,418.9 578.0,419.7C579.5,420.5 581.7,420.8 583.8,421.7C585.9,422.6 588.0,424.0 589.7,424.7C591.4,425.4 592.4,425.4 593.0,425.5" fill="none" stroke="#A9A9A9" stroke-width="2.5" stroke-linejoin="round" stroke-linecap="round"/>
<path d="M578.0,419.7C577.4,420.6 576.2,423.0 574.7,424.7C573.2,426.4 571.6,427.3 569.8,428.8C568.0,430.3 566.6,431.6 564.8,433.0C563.0,434.4 561.9,435.1 559.8,436.3C557.7,437.5 555.6,438.5 553.2,439.6C550.8,440.7 548.3,441.2 546.5,442.1C544.7,443.0 543.8,443.5 543.2,444.6C542.6,445.7 542.9,446.4 543.2,447.9C543.5,449.4 544.4,450.9 544.9,452.9C545.4,454.9 545.6,457.6 545.7,458.7" fill="none" stroke="#A9A9A9" stroke-width="2.5" stroke-linejoin="round" stroke-linecap="round"/>
<path d="M403.3,252.2C403.1,253.0 402.4,254.9 402.4,256.4C402.4,257.9 403.0,258.7 403.3,260.5C403.6,262.3 404.1,264.0 404.1,266.3C404.1,268.6 403.4,270.5 403.3,272.9C403.2,275.3 403.3,278.4 403.3,279.6" fill="none" stroke="#A9A9A9" stroke-width="2.5" stroke-linejoin="round" stroke-linecap="round"/>
<path d="M342.2,178.9C342.4,178.1 342.2,175.8 343.1,174.8C344.0,173.8 345.8,173.4 347.2,173.4C348.6,173.4 349.1,173.9 350.5,174.8C351.9,175.7 353.2,176.6 354.7,178.1C356.2,179.6 358.5,181.6 358.8,183.1C359.1,184.6 357.2,184.9 356.3,186.4C355.4,187.9 354.3,189.0 353.8,191.4C353.3,193.8 354.1,197.3 353.8,199.7C353.5,202.1 353.1,203.2 352.2,204.6C351.3,206.0 350.1,206.6 348.9,207.1C347.7,207.6 346.2,207.1 345.6,207.1" fill="none" stroke="#A9A9A9" stroke-width="2.5" stroke-linejoin="round" stroke-linecap="round"/>
<path d="M358.8,183.1C359.6,182.5 361.0,180.9 363.0,179.8C365.0,178.7 367.2,178.1 369.6,177.3C372.0,176.5 373.5,176.0 376.2,175.6C378.9,175.2 381.8,175.0 384.5,175.1C387.2,175.2 389.1,175.5 391.2,176.1C393.3,176.7 394.7,177.4 396.1,178.4C397.5,179.4 398.3,179.9 398.6,181.4C398.9,182.9 398.3,184.7 397.8,186.4C397.3,188.1 397.0,188.7 396.1,190.5C395.2,192.3 394.6,194.6 392.8,196.3C391.0,198.0 388.6,199.4 386.2,199.7C383.8,200.0 382.0,198.6 379.6,198.0C377.2,197.4 375.3,196.4 372.9,196.3C370.5,196.2 368.4,196.6 366.3,197.2C364.2,197.8 363.1,198.9 361.3,199.7C359.5,200.5 357.7,201.3 356.3,201.3C354.9,201.3 354.3,200.0 353.8,199.7" fill="none" stroke="#A9A9A9" stroke-width="2.5" stroke-linejoin="round" stroke-linecap="round"/>
<path d="M504.9,397.8C504.9,396.3 505.4,392.3 504.9,389.6C504.4,386.9 503.2,385.0 502.4,382.9C501.6,380.8 501.0,380.5 500.7,377.9C500.4,375.3 500.2,370.9 500.7,368.8C501.2,366.7 500.9,367.4 503.2,366.3C505.5,365.2 509.8,363.9 513.2,363.0C516.6,362.1 519.1,362.9 521.5,361.4C523.9,359.9 525.6,356.8 526.4,354.7C527.2,352.6 526.1,351.5 525.6,349.8C525.1,348.1 524.8,346.8 523.9,345.6C523.0,344.4 521.4,344.5 520.6,343.1C519.8,341.7 520.3,339.9 519.8,338.1C519.3,336.3 519.0,334.4 518.1,333.2C517.2,332.0 515.7,332.4 514.8,331.5C513.9,330.6 514.3,329.0 513.2,328.2C512.1,327.4 510.3,328.0 509.0,327.4C507.7,326.8 506.8,326.3 506.2,324.9C505.6,323.5 505.2,321.4 505.7,319.9C506.2,318.4 507.6,317.0 509.0,316.6C510.4,316.2 511.5,317.1 513.2,317.9C514.9,318.7 516.3,319.7 518.1,320.7C519.9,321.7 521.6,322.3 523.1,323.2C524.6,324.1 525.6,324.6 526.4,325.7C527.2,326.8 526.4,328.1 527.3,329.0C528.2,329.9 529.6,330.2 531.4,330.7C533.2,331.2 535.2,331.6 537.2,331.5C539.2,331.4 540.7,330.4 542.2,329.9C543.7,329.4 544.3,328.7 545.5,329.0C546.7,329.3 547.8,330.4 548.8,331.5C549.8,332.6 550.8,333.7 551.0,334.8C551.2,335.9 550.6,336.5 549.7,337.3C548.8,338.1 547.4,338.2 546.3,339.0C545.2,339.8 545.0,340.8 543.8,341.5C542.6,342.2 541.2,342.3 539.7,342.8C538.2,343.3 536.8,343.6 535.6,344.4C534.4,345.2 533.7,346.0 533.1,347.3C532.5,348.6 532.1,349.9 532.2,351.4C532.3,352.9 533.1,354.1 533.9,355.6C534.7,357.1 535.6,358.0 536.4,359.7C537.2,361.4 537.9,362.9 538.4,364.7C538.9,366.5 539.1,367.9 538.9,369.7C538.7,371.5 538.0,372.8 537.2,374.6C536.4,376.4 535.6,377.8 534.7,379.6C533.8,381.4 533.3,382.8 532.2,384.6C531.1,386.4 530.3,388.5 528.9,389.6C527.5,390.7 526.6,390.4 524.8,390.4C523.0,390.4 520.2,388.2 519.0,389.6C517.8,391.0 518.6,396.6 518.5,398.2" fill="none" stroke="#A9A9A9" stroke-width="2.5" stroke-linejoin="round" stroke-linecap="round"/>
<path d="M348.0,456.4C348.4,457.1 348.9,459.1 350.0,460.3C351.1,461.5 352.0,462.5 353.8,463.2C355.6,463.9 357.5,464.3 359.6,464.2C361.7,464.1 363.3,463.3 365.4,462.8C367.5,462.3 369.2,461.9 371.2,461.3C373.2,460.7 374.7,460.4 376.1,459.3C377.5,458.2 378.4,457.1 379.0,455.5C379.6,453.9 379.8,452.4 379.4,450.6C379.0,448.8 378.3,447.1 377.0,445.8C375.7,444.5 374.3,444.1 372.2,443.5C370.1,442.9 368.1,442.4 365.4,442.3C362.7,442.2 360.2,442.3 357.7,442.7C355.2,443.1 353.6,443.6 351.9,444.6C350.2,445.6 349.2,446.7 348.4,448.1C347.6,449.5 347.4,450.5 347.3,452.0C347.2,453.5 347.9,455.6 348.0,456.4" fill="none" stroke="#A9A9A9" stroke-width="2.5" stroke-linejoin="round" stroke-linecap="round"/>
<path d="M403.2,313.0C401.7,315.8 402.4,316.2 402.5,318.0C402.6,319.8 402.9,321.4 403.5,323.0C404.1,324.6 404.3,325.9 405.5,327.0C406.7,328.1 408.3,328.3 410.0,329.0C411.7,329.7 413.2,330.1 415.0,331.0C416.8,331.9 418.2,332.9 420.0,334.0C421.8,335.1 423.2,336.3 425.0,337.0C426.8,337.7 428.4,338.4 430.0,338.0C431.6,337.6 432.9,336.6 434.0,335.0C435.1,333.4 436.0,331.4 436.0,329.0C436.0,326.6 434.9,324.4 434.0,322.0C433.1,319.6 432.3,317.8 431.0,316.0C429.7,314.2 428.8,313.2 427.0,312.0C425.2,310.8 423.1,310.4 421.0,309.5C418.9,308.6 417.4,308.2 415.5,307.0C413.6,305.8 412.9,301.9 410.6,303.0C408.3,304.1 404.7,310.2 403.2,313.0Z" fill="#FFE08F" stroke="#A9A9A9" stroke-width="2.5" stroke-linejoin="round"/>
<path d="M390.7,276.8C391.8,276.3 394.2,278.4 396.5,279.0C398.8,279.6 401.2,279.3 403.2,279.8C405.2,280.3 405.9,279.7 407.3,281.5C408.7,283.3 409.9,286.8 410.6,289.8C411.3,292.8 411.2,295.3 411.1,298.0C411.0,300.7 410.5,302.6 409.8,304.7C409.1,306.8 408.5,308.2 407.3,309.7C406.1,311.2 404.7,312.7 403.2,313.0C401.7,313.3 400.4,312.5 399.0,311.3C397.6,310.1 396.6,308.4 395.7,306.3C394.8,304.2 394.5,302.1 394.0,299.7C393.5,297.3 393.5,295.5 393.2,293.1C392.9,290.7 392.9,288.5 392.4,286.4C391.9,284.3 391.0,283.3 390.7,281.5C390.4,279.7 389.6,277.3 390.7,276.8Z" fill="#F6B6B6" stroke="#A9A9A9" stroke-width="2.5" stroke-linejoin="round"/>
<text x="368.2" y="132.6" class="ml" textLength="33.6" lengthAdjust="spacingAndGlyphs">경기</text>
<text x="361.4" y="154.1" class="mv" textLength="47.2" lengthAdjust="spacingAndGlyphs">0.13%</text>
<text x="360.5" y="181.0" class="ml" textLength="33.6" lengthAdjust="spacingAndGlyphs">서울</text>
<text x="353.7" y="202.4" class="mv" textLength="47.2" lengthAdjust="spacingAndGlyphs">0.16%</text>
<text x="301.8" y="185.1" class="ml" textLength="33.6" lengthAdjust="spacingAndGlyphs">인천</text>
<text x="295.0" y="207.1" class="mv" textLength="47.2" lengthAdjust="spacingAndGlyphs">0.10%</text>
<text x="476.6" y="156.7" class="ml" textLength="33.6" lengthAdjust="spacingAndGlyphs">강원</text>
<text x="469.8" y="178.9" class="mv" textLength="47.2" lengthAdjust="spacingAndGlyphs">0.00%</text>
<text x="384.0" y="274.7" class="ml" textLength="33.6" lengthAdjust="spacingAndGlyphs">세종</text>
<text x="377.2" y="296.1" class="mv" textLength="47.2" lengthAdjust="spacingAndGlyphs">0.40%</text>
<text x="352.2" y="316.7" class="ml" textLength="33.6" lengthAdjust="spacingAndGlyphs">충남</text>
<text x="345.4" y="338.4" class="mv" textLength="47.2" lengthAdjust="spacingAndGlyphs">0.01%</text>
<text x="407.8" y="324.4" class="ml" textLength="33.6" lengthAdjust="spacingAndGlyphs">대전</text>
<text x="401.0" y="345.8" class="mv" textLength="47.2" lengthAdjust="spacingAndGlyphs">0.04%</text>
<text x="443.9" y="245.1" class="ml" textLength="33.6" lengthAdjust="spacingAndGlyphs">충북</text>
<text x="437.1" y="266.6" class="mv" textLength="47.2" lengthAdjust="spacingAndGlyphs">0.06%</text>
<text x="359.8" y="380.2" class="ml" textLength="33.6" lengthAdjust="spacingAndGlyphs">전북</text>
<text x="353.0" y="402.3" class="mv" textLength="47.2" lengthAdjust="spacingAndGlyphs">0.06%</text>
<text x="531.5" y="295.4" class="ml" textLength="33.6" lengthAdjust="spacingAndGlyphs">경북</text>
<text x="524.7" y="317.4" class="mv" textLength="47.2" lengthAdjust="spacingAndGlyphs">0.05%</text>
<text x="498.7" y="368.6" class="ml" textLength="33.6" lengthAdjust="spacingAndGlyphs">대구</text>
<text x="491.9" y="390.7" class="mv" textLength="47.2" lengthAdjust="spacingAndGlyphs">0.04%</text>
<text x="339.0" y="435.5" class="ml" textLength="33.6" lengthAdjust="spacingAndGlyphs">광주</text>
<text x="332.2" y="457.5" class="mv" textLength="47.2" lengthAdjust="spacingAndGlyphs">0.03%</text>
<text x="331.5" y="494.6" class="ml" textLength="33.6" lengthAdjust="spacingAndGlyphs">전남</text>
<text x="324.7" y="516.9" class="mv" textLength="47.2" lengthAdjust="spacingAndGlyphs">0.07%</text>
<text x="587.1" y="389.2" class="ml" textLength="33.6" lengthAdjust="spacingAndGlyphs">울산</text>
<text x="580.3" y="410.6" class="mv" textLength="47.2" lengthAdjust="spacingAndGlyphs">0.17%</text>
<text x="477.6" y="423.3" class="ml" textLength="33.6" lengthAdjust="spacingAndGlyphs">경남</text>
<text x="470.8" y="445.1" class="mv" textLength="47.2" lengthAdjust="spacingAndGlyphs">0.04%</text>
<text x="564.5" y="438.1" class="ml" textLength="33.6" lengthAdjust="spacingAndGlyphs">부산</text>
<text x="557.7" y="460.3" class="mv" textLength="47.2" lengthAdjust="spacingAndGlyphs">0.07%</text>
<text x="313.6" y="586.0" class="ml" textLength="33.6" lengthAdjust="spacingAndGlyphs">제주</text>
<text x="303.0" y="608.3" class="mv" textLength="54.8" lengthAdjust="spacingAndGlyphs">-0.04%</text>
<rect x="510" y="526.0" width="25" height="12.4" fill="#F0727A"/>
<text y="535.8" class="lg"><tspan class="lgn" x="543.1" textLength="27.2" lengthAdjust="spacing">0.50%</tspan><tspan class="lgk" x="570.3" textLength="17.2" lengthAdjust="spacing">이상</tspan></text>
<rect x="510" y="542.3" width="25" height="12.4" fill="#F8B7BB"/>
<text y="552.1" class="lg"><tspan class="lgn" x="543.1" textLength="27.2" lengthAdjust="spacing">0.25%</tspan><tspan class="lgk" x="570.3" textLength="17.2" lengthAdjust="spacing">이상</tspan> <tspan class="lgn" x="592.2" textLength="5.2" lengthAdjust="spacing">~</tspan> <tspan class="lgn" x="601.0" textLength="27.0" lengthAdjust="spacing">0.50%</tspan><tspan class="lgk" x="629.0" textLength="17.2" lengthAdjust="spacing">미만</tspan></text>
<rect x="510" y="558.6" width="25" height="12.4" fill="#FFE08F"/>
<text y="568.4" class="lg"><tspan class="lgn" x="539.3" textLength="31.0" lengthAdjust="spacing">-0.25%</tspan><tspan class="lgk" x="570.3" textLength="17.2" lengthAdjust="spacing">초과</tspan> <tspan class="lgn" x="592.2" textLength="5.2" lengthAdjust="spacing">~</tspan> <tspan class="lgn" x="601.0" textLength="27.0" lengthAdjust="spacing">0.25%</tspan><tspan class="lgk" x="629.0" textLength="17.2" lengthAdjust="spacing">미만</tspan></text>
<rect x="510" y="574.9" width="25" height="12.4" fill="#B7C3E8"/>
<text y="584.7" class="lg"><tspan class="lgn" x="539.3" textLength="31.0" lengthAdjust="spacing">-0.50%</tspan><tspan class="lgk" x="570.3" textLength="17.2" lengthAdjust="spacing">초과</tspan> <tspan class="lgn" x="592.2" textLength="5.2" lengthAdjust="spacing">~</tspan> <tspan class="lgn" x="603.2" textLength="29.6" lengthAdjust="spacing">-0.25%</tspan><tspan class="lgk" x="633.4" textLength="17.2" lengthAdjust="spacing">이하</tspan></text>
<rect x="510" y="591.2" width="25" height="12.4" fill="#4472C4"/>
<text y="601.0" class="lg"><tspan class="lgn" x="539.3" textLength="31.0" lengthAdjust="spacing">-0.50%</tspan><tspan class="lgk" x="570.3" textLength="17.2" lengthAdjust="spacing">이하</tspan></text>
</svg>
</body>
</html>
